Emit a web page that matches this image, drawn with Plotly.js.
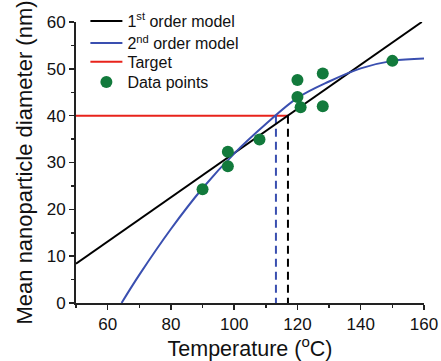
<!DOCTYPE html>
<html>
<head>
<meta charset="utf-8">
<script src="https://cdn.plot.ly/plotly-3.0.1.min.js"></script>
<style>html,body{margin:0;padding:0;background:#fff;}#chart{width:441px;height:361px;}</style>
</head>
<body>
<div id="chart"></div>
<script>
// Data
var firstOrderX = [50, 159.3];
var firstOrderY = [8.4, 60];
var secondOrderX = [64.4, 70, 80, 90, 100, 110, 120, 130, 140, 150, 160];
var secondOrderY = [0, 6.0, 15.8, 24.5, 31.9, 38.2, 43.8, 47.3, 50.1, 51.7, 52.2];
var targetX = [50, 117];
var targetY = [40, 40];
var blueDropX = [113.2, 113.2];
var blackDropX = [117, 117];
var dropY = [40, 0];
var dataX = [90, 98, 98, 108, 120, 120, 121, 128, 128, 150];
var dataY = [24.3, 32.3, 29.2, 34.9, 47.6, 44.0, 41.8, 49.0, 42.0, 51.7];

var FONT = 'Liberation Sans, Arial, sans-serif';
var traces = [
  {x: targetX, y: targetY, mode: 'lines', name: 'Target', legend: 'legend3',
   line: {color: '#e8231b', width: 2}},
  {x: blueDropX, y: dropY, mode: 'lines', showlegend: false,
   line: {color: '#3a4fb0', width: 2, dash: '8px,5px'}},
  {x: blackDropX, y: dropY, mode: 'lines', showlegend: false,
   line: {color: '#000000', width: 2, dash: '8px,5px'}},
  {x: firstOrderX, y: firstOrderY, mode: 'lines', name: '1<sup>st</sup> order model', legend: 'legend',
   line: {color: '#000000', width: 2}},
  {x: secondOrderX, y: secondOrderY, mode: 'lines', name: '2<sup>nd</sup> order model', legend: 'legend2',
   line: {color: '#3a4fb0', width: 2, shape: 'spline'}},
  {x: dataX, y: dataY, mode: 'markers', name: 'Data points', legend: 'legend4',
   marker: {color: '#127a3c', size: 12}}
];

function legendAt(yPaper) {
  return {x: 0.027, y: yPaper, xanchor: 'left', yanchor: 'middle', bgcolor: 'rgba(0,0,0,0)',
          font: {family: FONT, size: 16, color: '#111'}, itemwidth: 32};
}

var layout = {
  width: 441, height: 361,
  margin: {l: 76, r: 17, t: 22, b: 58, autoexpand: false},
  paper_bgcolor: '#ffffff', plot_bgcolor: '#ffffff',
  font: {family: FONT, size: 16, color: '#111'},
  showlegend: true,
  legend: legendAt(1.0036),
  legend2: legendAt(0.925),
  legend3: legendAt(0.858),
  legend4: legendAt(0.786),
  xaxis: {
    range: [50, 160], dtick: 20, tick0: 0, showgrid: false, zeroline: false,
    showline: true, linecolor: '#222', linewidth: 2,
    ticks: 'outside', ticklen: 5, tickwidth: 1.5, tickcolor: '#222',
    minor: {dtick: 10, ticks: 'outside', ticklen: 3, tickwidth: 1.5, tickcolor: '#222'},
    tickfont: {family: FONT, size: 17, color: '#111'},
    title: {text: 'Temperature (<sup>o</sup>C)', font: {family: FONT, size: 21.5, color: '#111'}, standoff: 6}
  },
  yaxis: {
    range: [0, 60], dtick: 10, showgrid: false, zeroline: false,
    showline: true, linecolor: '#222', linewidth: 2,
    ticks: 'outside', ticklen: 5, tickwidth: 1.5, tickcolor: '#222',
    minor: {dtick: 5, ticks: 'outside', ticklen: 3, tickwidth: 1.5, tickcolor: '#222'},
    tickfont: {family: FONT, size: 17, color: '#111'},
    title: {text: 'Mean nanoparticle diameter (nm)', font: {family: FONT, size: 22, color: '#111'}, standoff: 8}
  }
};

Plotly.newPlot('chart', traces, layout, {displayModeBar: false, staticPlot: true});
</script>
</body>
</html>
